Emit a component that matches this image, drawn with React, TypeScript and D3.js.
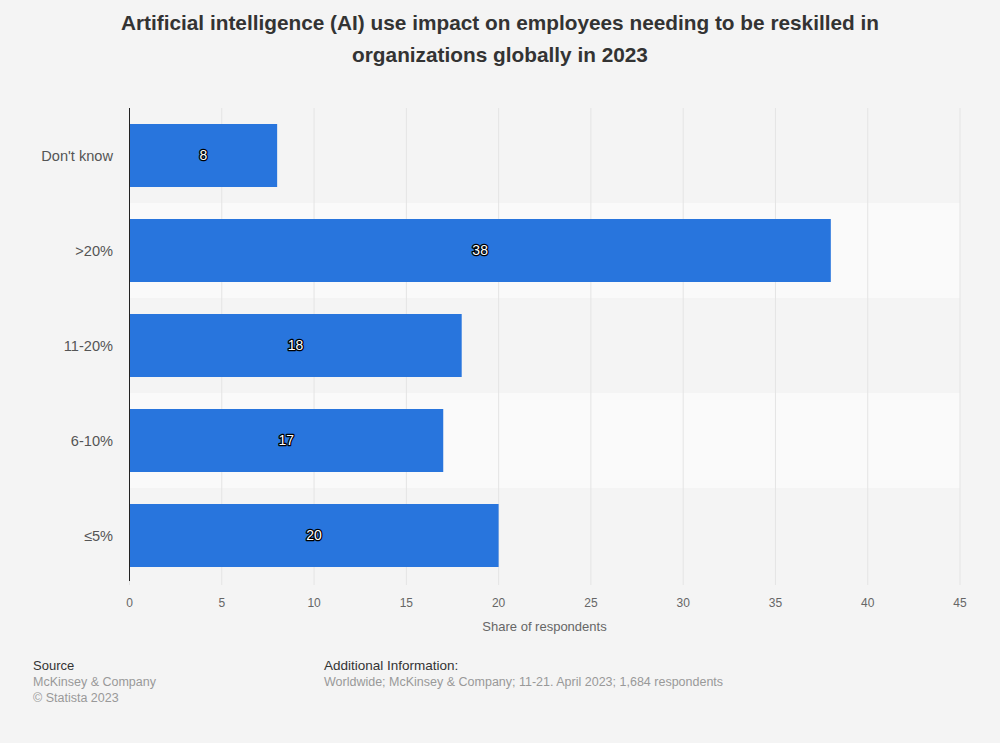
import React from "react";
import * as d3 from "d3";

const categories = ["Don't know", ">20%", "11-20%", "6-10%", "≤5%"];
const values = [8, 38, 18, 17, 20];
const xTicks = [0, 5, 10, 15, 20, 25, 30, 35, 40, 45];
const titleLines = [
  "Artificial intelligence (AI) use impact on employees needing to be reskilled in",
  "organizations globally in 2023",
];
const axisTitle = "Share of respondents";

const W = 1000;
const H = 743;
const FONT = "'Liberation Sans', Arial, Helvetica, sans-serif";

export default function App() {
  const x = d3.scaleLinear().domain([0, 45]).range([129.5, 960]);
  const rows = d3.scaleBand<string>().domain(categories).range([108, 583]).padding(0);
  const bars = d3.scaleBand<string>().domain(categories).range([108, 583]).paddingInner(0.337).paddingOuter(0.1685);

  return (
    <svg width={W} height={H} style={{ position: "absolute", left: 0, top: 0, display: "block" }}>
      <rect x={0} y={0} width={W} height={H} fill="#f4f4f4" />
      {titleLines.map((t, i) => (
        <text key={i} x={500} y={30 + i * 32} textAnchor="middle" fontFamily={FONT} fontWeight="bold" fontSize={20.8} fill="#333">
          {t}
        </text>
      ))}
      {categories.map((c, i) =>
        i % 2 === 1 ? (
          <rect key={c} x={x(0)} y={rows(c)} width={x(45) - x(0)} height={rows.bandwidth()} fill="#fafafa" />
        ) : null
      )}
      {xTicks.map((t) => (
        <line key={t} x1={x(t)} x2={x(t)} y1={108} y2={585} stroke="#e4e4e4" strokeWidth={1} />
      ))}
      {categories.map((c, i) => (
        <rect key={c} x={x(0)} y={bars(c)} width={x(values[i]) - x(0)} height={bars.bandwidth()} fill="#2875dd" />
      ))}
      <line x1={129.5} x2={129.5} y1={108} y2={581} stroke="#222" strokeWidth={1} />
      {categories.map((c, i) => (
        <text key={c} x={113} y={(bars(c) as number) + bars.bandwidth() / 2} dy="0.35em" textAnchor="end" fontFamily={FONT} fontSize={14.6} fill="#555">
          {c}
        </text>
      ))}
      {categories.map((c, i) => (
        <text
          key={c}
          x={(x(0) + x(values[i])) / 2}
          y={(bars(c) as number) + bars.bandwidth() / 2}
          dy="0.35em"
          textAnchor="middle"
          fontFamily={FONT}
          fontSize={14}
          fill="#fff"
          stroke="#000"
          strokeWidth={2.5}
          paintOrder="stroke"
          strokeLinejoin="round"
        >
          {values[i]}
        </text>
      ))}
      {xTicks.map((t) => (
        <text key={t} x={x(t)} y={607} textAnchor="middle" fontFamily={FONT} fontSize={12} fill="#666">
          {t}
        </text>
      ))}
      <text x={544.5} y={631} textAnchor="middle" fontFamily={FONT} fontSize={13} fill="#666">
        {axisTitle}
      </text>
      <text x={33} y={670} fontFamily={FONT} fontSize={13} fill="#333">Source</text>
      <text x={33} y={686} fontFamily={FONT} fontSize={12.5} fill="#999">McKinsey &amp; Company</text>
      <text x={33} y={702} fontFamily={FONT} fontSize={12.5} fill="#999">© Statista 2023</text>
      <text x={324} y={670} fontFamily={FONT} fontSize={13.5} fill="#333">Additional Information:</text>
      <text x={324} y={686} fontFamily={FONT} fontSize={12.5} fill="#999">
        Worldwide; McKinsey &amp; Company; 11-21. April 2023; 1,684 respondents
      </text>
    </svg>
  );
}
